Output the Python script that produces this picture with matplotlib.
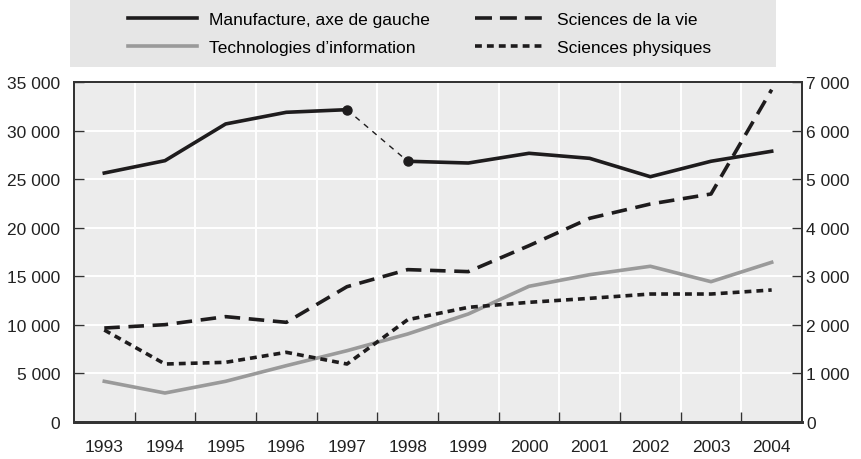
import matplotlib
matplotlib.use("Agg")
from matplotlib import pyplot as plt
from matplotlib.lines import Line2D
from matplotlib.patches import Rectangle
from matplotlib.ticker import FuncFormatter, FixedLocator
import numpy as np

plt.rcParams['font.family'] = ['Liberation Sans Narrow', 'Liberation Sans', 'DejaVu Sans']

annees = ['1993', '1994', '1995', '1996', '1997', '1998',
          '1999', '2000', '2001', '2002', '2003', '2004']
# axe de gauche
manufacture = [25630, 26900, 30680, 31880, 32150, 26840,
               26660, 27660, 27140, 25250, 26840, 27870]
# axe de droite
technologies = [838, 597, 838, 1160, 1468, 1812,
                2224, 2794, 3033, 3206, 2889, 3288]
sciences_vie = [1935, 2004, 2169, 2052, 2786, 3137,
                3096, 3630, 4194, 4488, 4694, 6842]
sciences_phys = [1894, 1194, 1229, 1435, 1194, 2106,
                 2361, 2464, 2546, 2635, 2635, 2718]

noir = '#1e1c1d'
gris = '#9a9a9a'
fond = '#ececec'

fig = plt.figure(figsize=(8.62, 4.60), dpi=100)
ax = fig.add_axes([0.0858, 0.0804, 0.8446, 0.7392])
ax2 = ax.twinx()

x = np.arange(len(annees))

# lignes (axe de droite)
ax2.plot(x, technologies, color=gris, lw=2.6)
ax2.plot(x, sciences_vie, color=noir, lw=2.6, dashes=(4.3, 2.4))
ax2.plot(x, sciences_phys, color=noir, lw=2.6, dashes=(1.9, 1.4))

# manufacture, avec rupture de serie entre 1997 et 1998
ax2.set_zorder(1)
ax.set_zorder(2)
ax.patch.set_visible(False)
ax.plot(x[:5], manufacture[:5], color=noir, lw=2.6)
ax.plot(x[5:], manufacture[5:], color=noir, lw=2.6)
ax.plot(x[4:6], manufacture[4:6], color=noir, lw=1.0, dashes=(4, 4))
ax.plot(x[4:6], manufacture[4:6], 'o', color=noir, ms=6.5)

ax2.patch.set_visible(True)
ax2.patch.set_facecolor(fond)

# axes
ax.set_xlim(-0.5, len(annees) - 0.5)
ax.set_ylim(0, 35000)
ax2.set_ylim(0, 7000)
ax.set_yticks(np.arange(0, 35001, 5000))
ax2.set_yticks(np.arange(0, 7001, 1000))
fmt = FuncFormatter(lambda v, p: f"{int(v):,}".replace(',', ' '))
ax.yaxis.set_major_formatter(fmt)
ax2.yaxis.set_major_formatter(fmt)

ax.xaxis.set_major_locator(FixedLocator(x[:-1] + 0.5))
ax.xaxis.set_minor_locator(FixedLocator(x))
ax.set_xticklabels([], minor=False)
ax.set_xticklabels(annees, minor=True)
ax.tick_params(axis='x', which='major', direction='in', length=7, width=1, color='#333333')
ax.tick_params(axis='x', which='minor', length=0, pad=12, labelsize=12.5, labelcolor='#222222')
ax.tick_params(axis='y', direction='in', length=7, width=1, color='#333333', pad=10,
               labelsize=12.5, labelcolor='#222222')
ax2.tick_params(axis='y', direction='in', length=7, width=1, color='#333333', pad=3,
                labelsize=12.5, labelcolor='#222222')

# grille blanche
for yv in np.arange(1000, 7000, 1000):
    ax2.axhline(yv, color='white', lw=1.4, zorder=0)
for xv in x[:-1] + 0.5:
    ax2.axvline(xv, color='white', lw=1.4, zorder=0)

for a in (ax, ax2):
    for s in a.spines.values():
        s.set_color('#333333')
        s.set_linewidth(1.3)
    a.spines['bottom'].set_linewidth(2)

# legende sur bandeau gris
fig.patches.append(Rectangle((0.081, 0.852), 0.819, 0.146, transform=fig.transFigure,
                             facecolor='#e6e6e6', edgecolor='none', zorder=0))
handles = [
    Line2D([], [], color=noir, lw=2.6),
    Line2D([], [], color=gris, lw=2.6),
    Line2D([], [], color=noir, lw=2.6, dashes=(4.7, 2.2)),
    Line2D([], [], color=noir, lw=2.6, dashes=(1.9, 1.4)),
]
labels = ['Manufacture, axe de gauche', 'Technologies d\u2019information',
          'Sciences de la vie', 'Sciences physiques']
fig.legend(handles, labels, loc='center left', bbox_to_anchor=(0.148, 0.925), ncol=2,
           frameon=False, fontsize=12.5, handlelength=4, handletextpad=0.7,
           columnspacing=2.6, labelspacing=0.7, borderpad=0, borderaxespad=0)

fig.savefig('out.png', dpi=100)
